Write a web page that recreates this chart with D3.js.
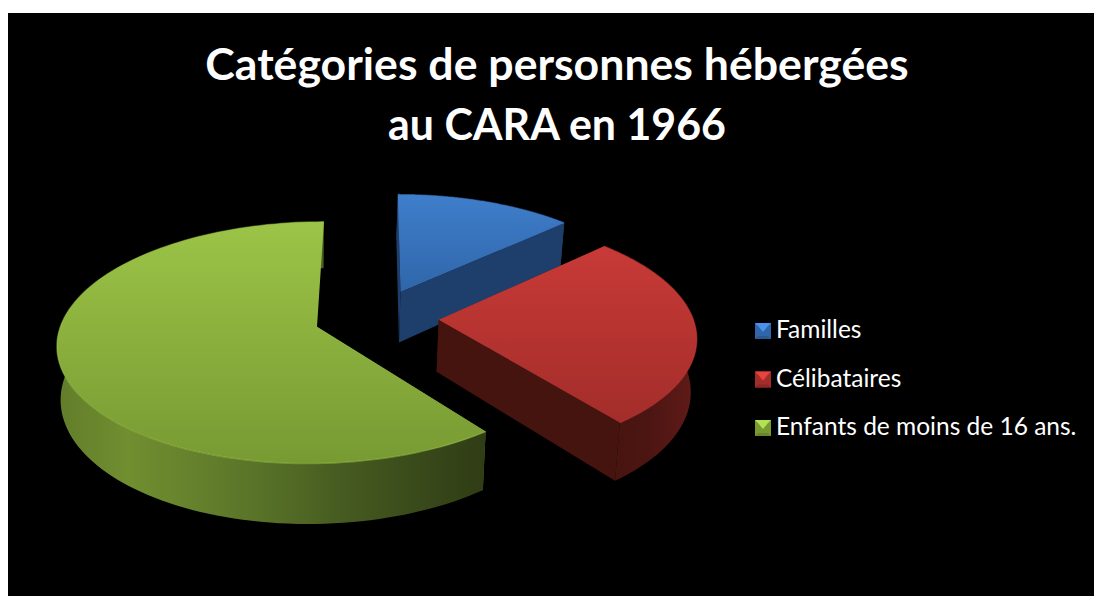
<!DOCTYPE html>
<html><head><meta charset="utf-8">
<script src="https://cdn.jsdelivr.net/npm/d3@7"></script>
<style>html,body{margin:0;padding:0;background:#fff;overflow:hidden}svg{display:block}</style>
</head><body><div id="chart"></div>
<script>
const titleLines = ["Catégories de personnes hébergées", "au CARA en 1966"];
const categories = ["Familles", "Célibataires", "Enfants de moins de 16 ans."];
const values = [13, 26.5, 60.5];
const topLight = ["#3f7ecb", "#c83a37", "#9cc447"];
const topDark = ["#2f66a9", "#a32d2a", "#789a33"];
const startWall = ["#1e3f6b", "#46140f", "#5c7a28"];
const endWall = ["#1e3f6b", "#46140f", null];
const outerStops = [
  ["#1e3f6b", "#1e3f6b"],
  ["#46140f", "#4c1512", "#611b18"],
  ["#627d2a", "#718e30", "#64802c", "#566f27", "#465b20", "#3a4b1b", "#303c15"]
];

const W = 1094, H = 596;
const svg = d3.select("#chart").append("svg").attr("width", W).attr("height", H);
const defs = svg.append("defs");
svg.append("rect").attr("x", 8).attr("y", 13).attr("width", W - 8).attr("height", H - 13).attr("fill", "#000");

// Perspective projection of the pie plane
const cx = 376.5, cy = 317.5, rx = 254, ry = 116.3, persp = 0.13, depth = 52, explode = 0.245;
const shrink = 0.985, vanishX = 300;
function project(u, v, low) {
  const s = 1 / (1 + persp * v);
  let x = cx + rx * u * s, y = cy - ry * v * s;
  if (low) { x = vanishX + (x - vanishX) * shrink; y += depth * s; }
  return [x, y];
}

const arcs = d3.pie().sort(null).value(d => d)(values);
const lineGen = d3.line();

function slicePoints(a) {
  const mid = (a.startAngle + a.endAngle) / 2;
  const ox = explode * Math.sin(mid), oy = explode * Math.cos(mid);
  const ts = d3.range(0, 121).map(i => a.startAngle + (a.endAngle - a.startAngle) * i / 120);
  return { ox, oy, rim: ts.map(t => [ox + Math.sin(t), oy + Math.cos(t)]) };
}

arcs.forEach((a, i) => {
  const g1 = defs.append("linearGradient").attr("id", "top" + i).attr("x1", 0).attr("y1", 0).attr("x2", 0).attr("y2", 1);
  g1.append("stop").attr("offset", "0%").attr("stop-color", topLight[i]);
  g1.append("stop").attr("offset", "100%").attr("stop-color", topDark[i]);
  const g2 = defs.append("linearGradient").attr("id", "wall" + i);
  outerStops[i].forEach((c, j, arr) => g2.append("stop").attr("offset", (j / (arr.length - 1) * 100) + "%").attr("stop-color", c));
});

// Painter's order: Familles, Enfants, Célibataires
[0, 2, 1].forEach(i => {
  const a = arcs[i], p = slicePoints(a);
  const g = svg.append("g").attr("class", "slice");
  const rimTop = p.rim.map(d => project(d[0], d[1], false));
  const rimLow = p.rim.map(d => project(d[0], d[1], true));
  const apexTop = project(p.ox, p.oy, false), apexLow = project(p.ox, p.oy, true);
  const last = p.rim.length - 1;
  // radial walls
  g.append("path").attr("d", lineGen([apexTop, rimTop[0], rimLow[0], apexLow]) + "Z").attr("fill", startWall[i]);
  if (endWall[i]) {
    g.append("path").attr("d", lineGen([apexTop, rimTop[last], rimLow[last], apexLow]) + "Z").attr("fill", endWall[i]);
  }
  // outer wall
  g.append("path").attr("d", lineGen(rimTop.concat(rimLow.slice().reverse())) + "Z").attr("fill", `url(#wall${i})`);
  // top face
  g.append("path").attr("d", lineGen([apexTop].concat(rimTop)) + "Z").attr("fill", `url(#top${i})`);
  // bevel along the rim
  g.append("path").attr("d", lineGen(rimTop)).attr("fill", "none").attr("stroke", topLight[i]).attr("stroke-width", 1.5).attr("opacity", 0.5);
});

// Title
const title = svg.append("g").attr("fill", "#fff").attr("font-family", "Lato, 'Open Sans', sans-serif").attr("font-weight", 700).attr("font-size", 44.6).attr("text-anchor", "middle");
titleLines.forEach((t, i) => {
  const el = title.append("text").attr("x", 557).attr("y", 80 + i * 60).text(t);
  if (i === 1) el.attr("textLength", 338).attr("lengthAdjust", "spacingAndGlyphs");
});

// Legend
const legY = d3.scalePoint().domain(categories).range([331, 428]);
const leg = svg.append("g");
categories.forEach((c, i) => {
  const y = legY(c), x = 755, s = 16;
  const g = leg.append("g").attr("transform", `translate(${x},${y - s / 2})`);
  g.append("rect").attr("width", s).attr("height", s).attr("fill", topDark[i]);
  g.append("path").attr("d", lineGen([[0, 0], [s, 0], [s - 3, 3], [s / 2, s / 2 + 1], [3, 3]]) + "Z").attr("fill", d3.color(topLight[i]).brighter(0.4));
  g.append("path").attr("d", lineGen([[0, s], [s, s], [s - 3, s - 3], [3, s - 3]]) + "Z").attr("fill", d3.color(topDark[i]).darker(0.4));
  leg.append("text").attr("x", 776).attr("y", y + 7).attr("fill", "#fff").attr("font-family", "Lato, 'Open Sans', sans-serif").attr("font-size", 24.5).text(c);
});
</script></body></html>
